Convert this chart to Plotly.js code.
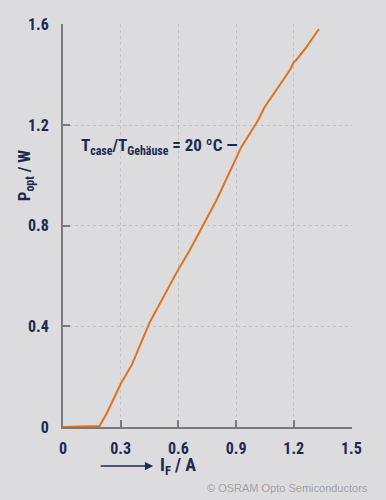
<!DOCTYPE html>
<html><head><meta charset="utf-8">
<script src="https://cdn.plot.ly/plotly-3.0.1.min.js"></script>
<style>html,body{margin:0;padding:0;background:#dcdcde;}#c{width:386px;height:500px;}</style>
</head><body><div id="c"></div>
<script>
const currentA = [0, 0.10, 0.19, 0.227, 0.301, 0.357, 0.452, 0.602, 0.659, 0.80, 0.927, 1.014, 1.048, 1.161, 1.183, 1.199, 1.213, 1.265, 1.331];
const powerW   = [0, 0.002, 0.004, 0.054, 0.173, 0.246, 0.418, 0.630, 0.703, 0.905, 1.113, 1.219, 1.272, 1.398, 1.424, 1.450, 1.460, 1.510, 1.583];
const xTicks = [0, 0.3, 0.6, 0.9, 1.2, 1.5];
const xTickText = ['0', '0.3', '0.6', '0.9', '1.2', '1.5'];
const yTicks = [0, 0.4, 0.8, 1.2, 1.6];
const yTickText = ['0', '0.4', '0.8', '1.2', '1.6'];

const navy = '#1b2a52';
const fnt = 'Roboto Condensed, Roboto, sans-serif';

const trace = {x: currentA, y: powerW, type: 'scatter', mode: 'lines',
  line: {color: '#e2711d', width: 2}, hoverinfo: 'skip'};

const axisCommon = {
  showline: true, linecolor: '#7a7a7c', linewidth: 2,
  ticks: 'inside', ticklen: 7, tickcolor: '#7a7a7c', tickwidth: 2,
  showgrid: true, gridcolor: '#c3c3c6', griddash: 'dot', gridwidth: 1,
  zeroline: false, tickfont: {family: fnt, size: 16, color: navy, weight: 'bold'},
  ticklabelstandoff: 6, fixedrange: true
};

const layout = {
  width: 386, height: 500,
  margin: {l: 63, r: 34, t: 24, b: 73},
  paper_bgcolor: '#dcdcde', plot_bgcolor: '#dcdcde',
  showlegend: false,
  xaxis: Object.assign({}, axisCommon, {range: [0, 1.503], tickvals: xTicks, ticktext: xTickText}),
  yaxis: Object.assign({}, axisCommon, {range: [0, 1.603], tickvals: yTicks, ticktext: yTickText, ticklabelstandoff: 9}),
  annotations: [
    {xref: 'paper', yref: 'paper', x: -0.131, y: 0.625, xanchor: 'center', yanchor: 'middle', textangle: -90,
     showarrow: false, text: 'P<sub>opt</sub> / W', font: {family: fnt, size: 17, color: navy, weight: 'bold'}},
    {xref: 'paper', yref: 'paper', x: 0.33, y: -0.097, xanchor: 'left', yanchor: 'middle',
     showarrow: false, text: 'I<sub>F</sub> / A', font: {family: fnt, size: 18, color: navy, weight: 'bold'}},
    {xref: 'paper', yref: 'paper', x: 0.312, y: -0.097, ax: -54, ay: 0, axref: 'pixel', ayref: 'pixel',
     showarrow: true, arrowhead: 2, arrowsize: 1.1, arrowwidth: 1.5, arrowcolor: navy, text: ''},
    {xref: 'paper', yref: 'paper', x: 0.057, y: 0.695, xanchor: 'left', yanchor: 'middle',
     showarrow: false, text: 'T<sub>case</sub>/T<sub>Gehäuse</sub> = 20 ºC —', font: {family: fnt, size: 17, color: navy, weight: 'bold'}},
    {xref: 'paper', yref: 'paper', x: 1.062, y: -0.151, xanchor: 'right', yanchor: 'middle',
     showarrow: false, text: '© OSRAM Opto Semiconductors', font: {family: 'Liberation Sans, Arial, sans-serif', size: 11, color: '#a3a3a6'}}
  ]
};

Plotly.newPlot('c', [trace], layout, {displayModeBar: false, staticPlot: true});
</script>
</body></html>
